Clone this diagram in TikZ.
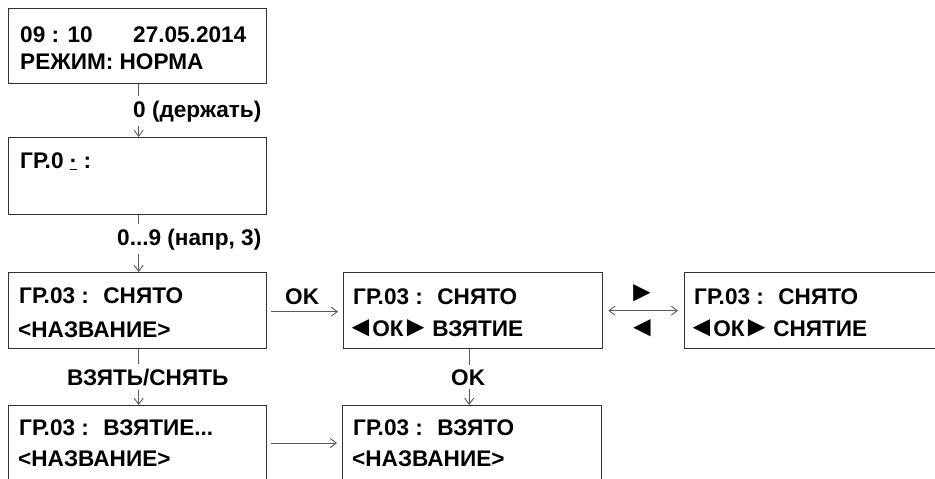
\documentclass[tikz,border=0pt]{standalone}
\usepackage{fontspec}
\setmainfont{Liberation Sans}
\usetikzlibrary{arrows.meta,calc}
\definecolor{boxc}{HTML}{333333}
\definecolor{linec}{HTML}{5A5A5A}
\newcommand{\gl}{{\fontsize{29}{30}\selectfont ◄}}
\newcommand{\gr}{{\fontsize{29}{30}\selectfont ►}}
\newcommand{\tl}{\hspace{-5pt}\gl\hspace{-2.5pt}}
\newcommand{\tr}{\hspace{-2.5pt}\gr\hspace{-4pt}}
\newcommand{\gsep}{\hspace{14.5pt}}
\begin{document}
\begin{tikzpicture}[x=1pt,y=-1pt,
  screen/.style={draw=boxc,line width=1.3pt,anchor=north west,inner sep=0pt,minimum width=258pt,minimum height=76pt},
  txt/.style={anchor=base west,inner sep=0pt,font=\fontsize{22.6}{26}\selectfont\bfseries},
  lbl/.style={txt,inner xsep=0pt,inner ysep=4pt},
  conn/.style={draw=linec,line width=0.9pt},
  arr/.style={conn,-{Straight Barb[length=6pt,width=9pt,line width=0.9pt]}},
  darr/.style={conn,{Straight Barb[length=6pt,width=9pt,line width=0.9pt]}-{Straight Barb[length=6pt,width=9pt,line width=0.9pt]}}
]
\useasboundingbox (0,0) rectangle (935,479);
\clip (0,0) rectangle (935,479);

% screens
\node[screen,minimum height=75pt] (b1) at (8,8) {};
\node[screen,minimum height=77pt] (b2) at (8,137) {};
\node[screen] (b3) at (8,272) {};
\node[screen,minimum width=259pt] (b4) at (343,272) {};
\node[screen,minimum width=262pt] (b7) at (684,272) {};
\node[screen,minimum height=80pt] (b5) at (8,405) {};
\node[screen,minimum width=259pt,minimum height=80pt] (b6) at (342,405) {};

% screen texts
\node[txt] (t1a) at (20,42) {09 : 10};
\node[txt] (t1b) at (133,42) {27.05.2014};
\node[txt] (t1c) at (20,69) {РЕЖИМ: НОРМА};
\node[txt] (t2a) at (20,168) {ГР.0 \underline{·} :};
\node[txt] (t3a) at (19,303) {ГР.03 :\gsep СНЯТО};
\node[txt] (t3b) at (18,337) {<НАЗВАНИЕ>};
\node[txt] (t4a) at (353,304) {ГР.03 :\gsep СНЯТО};
\node[txt] (t4b) at (351,336) {\tl ОК\tr\ ВЗЯТИЕ};
\node[txt] (t7a) at (694,304) {ГР.03 :\gsep СНЯТО};
\node[txt] (t7b) at (692,336) {\tl ОК\tr\ СНЯТИЕ};
\node[txt] (t5a) at (19,435) {ГР.03 :\gsep ВЗЯТИЕ...};
\node[txt] (t5b) at (18,466) {<НАЗВАНИЕ>};
\node[txt] (t6a) at (353,435) {ГР.03 :\gsep ВЗЯТО};
\node[txt] (t6b) at (352,466) {<НАЗВАНИЕ>};

% labels
\node[lbl] (l1) at (133,117) {0 (держать)};
\node[lbl] (l2) at (117,245) {0...9 (напр, 3)};
\node[lbl] (l3) at (67,385) {ВЗЯТЬ/СНЯТЬ};
\node[lbl] (l4) at (451,385) {OK};
\node[lbl] (l5) at (285,304) {OK};
\node[txt,anchor=center] (l6) at (642,293) {\gr};
\node[txt,anchor=center] (l7) at (642,328) {\gl};

% connectors
\coordinate (x1) at ($(b1.south)+(1,0)$);
\draw[conn] (x1) -- (x1 |- l1.north);
\draw[arr] (x1 |- l1.south) -- (x1 |- b2.north);
\coordinate (x2) at ($(b2.south)+(1,0)$);
\draw[conn] (x2) -- (x2 |- l2.north);
\draw[arr] (x2 |- l2.south) -- (x2 |- b3.north);
\coordinate (x3) at ($(b3.south)+(1,0)$);
\draw[conn] (x3) -- (x3 |- l3.north);
\draw[arr] (x3 |- l3.south) -- (x3 |- b5.north);
\coordinate (x4) at ($(b4.south)+(-4,0)$);
\draw[conn] (x4) -- (x4 |- l4.north);
\draw[arr] (x4 |- l4.south) -- (x4 |- b6.north);
\draw[arr,shorten <=4pt,shorten >=5pt] ($(b3.east)+(0,1)$) -- ($(b4.west)+(0,1)$);
\draw[arr,shorten <=4pt,shorten >=5pt] (b5.east |- 0,443) -- (b6.west |- 0,443);
\draw[darr,shorten <=5pt,shorten >=6pt] (b4.east) -- (b7.west);
\end{tikzpicture}
\end{document}
